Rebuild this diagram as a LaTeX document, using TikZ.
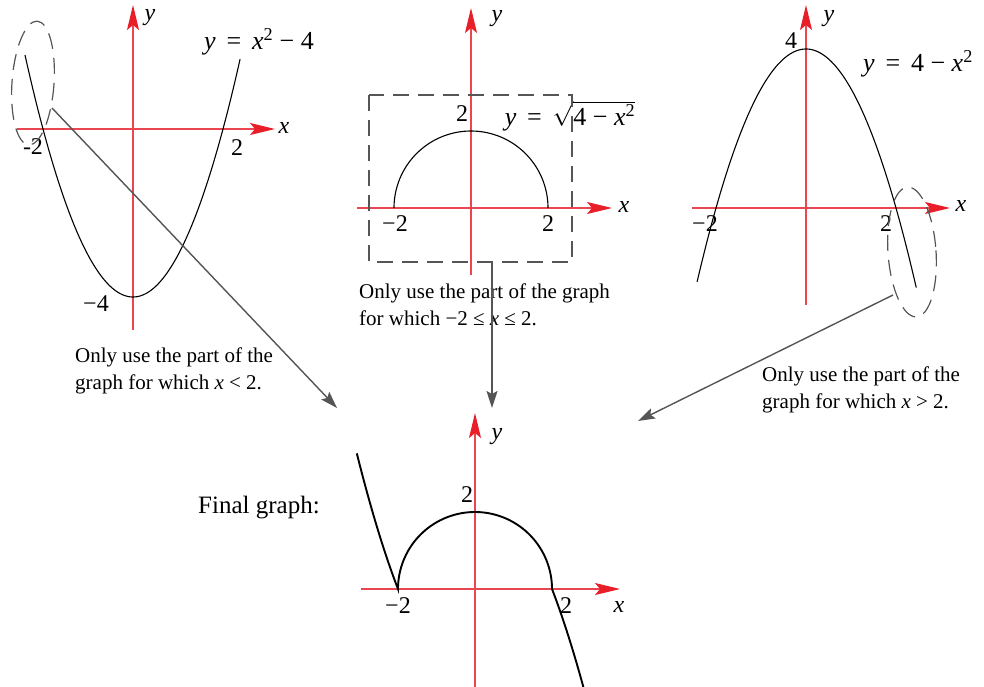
\documentclass[tikz,border=0pt]{standalone}
\usepackage{fontspec}
\setmainfont{Liberation Serif}
\usetikzlibrary{arrows.meta}
\definecolor{axred}{RGB}{234,70,80}
\definecolor{axhead}{RGB}{232,30,40}
\definecolor{conngray}{RGB}{85,85,85}
\tikzset{
  axis/.style={draw=axred, line width=1.3pt, -{Stealth[length=25pt,width=12pt,inset=5pt,color=axhead]}},
  curve/.style={black, line width=1.1pt},
  fcurve/.style={black, line width=1.9pt},
  dashbox/.style={draw=conngray, dash pattern=on 16pt off 9pt, line width=1.2pt},
  conn/.style={draw=conngray, line width=1.4pt, -{Stealth[length=17pt,width=11pt,inset=3pt]}},
  lbl/.style={font=\fontsize{24}{24}\selectfont, inner sep=0pt},
  eqlbl/.style={font=\fontsize{26}{26}\selectfont, inner sep=0pt},
  note/.style={font=\fontsize{21}{27}\selectfont, align=left, inner sep=0pt, anchor=base west},
}
\begin{document}
\begin{tikzpicture}[x=1pt,y=-1pt]
\useasboundingbox (0,0) rectangle (984,687);
% ---------- graph 1 ----------
\draw[axis] (17,129) -- (275,129);
\draw[axis] (133,330) -- (133,5);
\draw[curve] plot[domain=-2.40:2.38, samples=120] ({133+45*\x},{129-42*(\x*\x-4)});
\node[lbl] (g1x) at (284,128) {\itshape x};
\node[lbl] (g1y) at (150,18) {\itshape y};
\node[lbl] (g1m2) at (33,147) {-2};
\node[lbl] (g1p2) at (237,148) {2};
\node[lbl] (g1m4) at (96,304) {\textminus4};
\node[eqlbl] (g1eq) at (259,42) {{\itshape y}\, = \,{\itshape x}\textsuperscript{2} \textminus\ 4};
\draw[dashbox, rotate around={-4:(33,83)}] (33,83) ellipse (21 and 62);
\coordinate (e1) at (52,108);
% ---------- graph 2 ----------
\draw[axis] (357,208) -- (612,208);
\draw[axis] (471,275) -- (471,8);
\draw[curve] plot[domain=180:0, samples=90] ({471+77*cos(\x)},{208-77*sin(\x)});
\node[lbl] (g2x) at (624,207) {\itshape x};
\node[lbl] (g2y) at (497,19) {\itshape y};
\node[lbl] (g2t2) at (462,114) {2};
\node[lbl] (g2m2) at (395,224) {\textminus2};
\node[lbl] (g2p2) at (548,224) {2};
\node[eqlbl] (g2eq) at (570,116) {{\itshape y}\, = \,$\sqrt{\hbox{4 \textminus\ {\itshape x}\textsuperscript{2}}}$};
\draw[dashbox] (369,95) rectangle (572,262);
\coordinate (e2) at (492,262);
% ---------- graph 3 ----------
\draw[axis] (692,208) -- (950,208);
\draw[axis] (806,305) -- (806,5);
\draw[curve] plot[domain=-2.42:2.45, samples=120] ({806+45*\x},{208-39.75*(4-\x*\x)});
\node[lbl] (g3x) at (961,206) {\itshape x};
\node[lbl] (g3y) at (829,19) {\itshape y};
\node[lbl] (g3t4) at (791,41) {4};
\node[lbl] (g3m2) at (705,224) {\textminus2};
\node[lbl] (g3p2) at (886,224) {2};
\node[eqlbl] (g3eq) at (918,64) {{\itshape y}\, = \,4 \textminus\ {\itshape x}\textsuperscript{2}};
\draw[dashbox, rotate around={4:(912,252)}] (912,252) ellipse (24 and 65);
\coordinate (e3) at (893,295);
% ---------- notes ----------
\node[note] (n1) at (75,389) {Only use the part of the\\graph for which {\itshape x} < 2.};
\node[note] (n2) at (359,325) {Only use the part of the graph\\for which \textminus2 ≤ {\itshape x} ≤ 2.};
\node[note] (n3) at (762,408) {Only use the part of the\\graph for which {\itshape x} > 2.};
% ---------- final graph ----------
\draw[axis] (361,589) -- (620,589);
\draw[axis] (475,687) -- (475,413);
\draw[fcurve] plot[domain=-3.07:-2, samples=40] ({475+38.5*\x},{589-25*(\x*\x-4)})
  -- plot[domain=180:0, samples=90] ({475+77*cos(\x)},{589-77*sin(\x)})
  -- plot[domain=2:2.84, samples=40] ({475+38.5*\x},{589+25*(\x*\x-4)});
\node[lbl] (fx) at (619,607) {\itshape x};
\node[lbl] (fy) at (497,437) {\itshape y};
\node[lbl] (ft2) at (467,495) {2};
\node[lbl] (fm2) at (398,606) {\textminus2};
\node[lbl] (fp2) at (566,606) {2};
\node[lbl, font=\fontsize{25}{25}\selectfont] (final) at (259,508) {Final graph:};
\coordinate (t1) at (337,408);
\coordinate (t2) at (492,408);
\coordinate (t3) at (638,421);
% ---------- connectors ----------
\draw[conn] (e1) -- (t1);
\draw[conn] (e2) -- (t2);
\draw[conn] (e3) -- (t3);
\end{tikzpicture}
\end{document}
